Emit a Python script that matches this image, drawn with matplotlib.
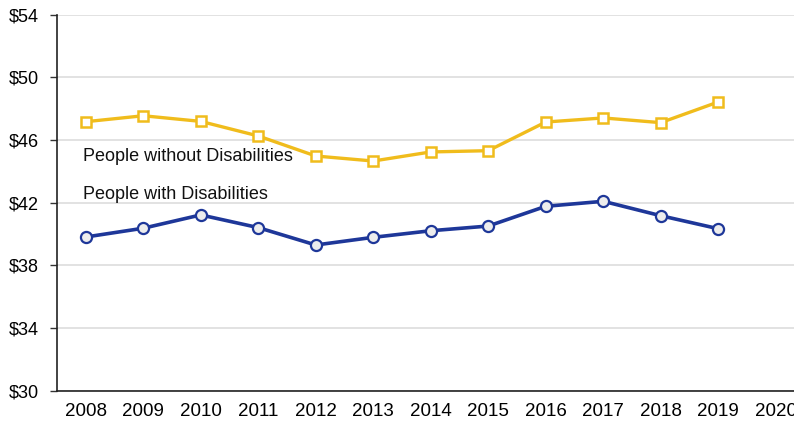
#!/usr/bin/env python3
"""
Median hourly earnings, people with and without disabilities, 2008-2019.
"""

import matplotlib
matplotlib.use('Agg')
import matplotlib.pyplot as plt

plt.rcParams['font.family'] = ['Liberation Sans', 'DejaVu Sans']

years = [2008, 2009, 2010, 2011, 2012, 2013, 2014, 2015, 2016, 2017, 2018, 2019]
without_dis = [47.17, 47.55, 47.19, 46.26, 44.98, 44.66, 45.24, 45.32, 47.15, 47.41, 47.11, 48.43]
with_dis = [39.81, 40.37, 41.22, 40.41, 39.30, 39.79, 40.21, 40.51, 41.77, 42.09, 41.17, 40.34]

x_ticks = list(range(2008, 2021))
y_ticks = [30, 34, 38, 42, 46, 50, 54]
y_labels = [f'${v}' for v in y_ticks]

gold = '#F0BC1C'
navy = '#1E3799'

fig = plt.figure(figsize=(7.94, 4.23), dpi=100)
ax = fig.add_axes([57 / 794, 32.3 / 423, 747.5 / 794, 376 / 423])

ax.plot(years, without_dis, color=gold, linewidth=2.4, marker='s', markersize=6.5,
        markerfacecolor='white', markeredgecolor=gold, markeredgewidth=1.8, zorder=3)
ax.plot(years, with_dis, color=navy, linewidth=2.6, marker='o', markersize=8,
        markerfacecolor='#EDEDED', markeredgecolor=navy, markeredgewidth=1.6, zorder=3)

ax.text(2007.95, 44.95, 'People without Disabilities', fontsize=13, va='center', ha='left', color='#111111')
ax.text(2007.95, 42.55, 'People with Disabilities', fontsize=13, va='center', ha='left', color='#111111')

ax.set_xlim(2007.5, 2020.5)
ax.set_ylim(30, 54)
ax.set_xticks(x_ticks)
ax.set_xticklabels([str(y) for y in x_ticks], fontsize=13.5)
ax.set_yticks(y_ticks)
ax.set_yticklabels(y_labels, fontsize=13)
ax.tick_params(axis='x', length=0, pad=9)
ax.tick_params(axis='y', length=5, width=1, color='#333333', pad=8)

ax.grid(axis='y', color='#DDDDDD', linewidth=1.2)
ax.set_axisbelow(True)
for side in ['top', 'right']:
    ax.spines[side].set_visible(False)
ax.spines['left'].set_color('#222222')
ax.spines['bottom'].set_color('#222222')
ax.spines['left'].set_linewidth(1.2)
ax.spines['bottom'].set_linewidth(1.2)

fig.savefig('out.png', dpi=100)
